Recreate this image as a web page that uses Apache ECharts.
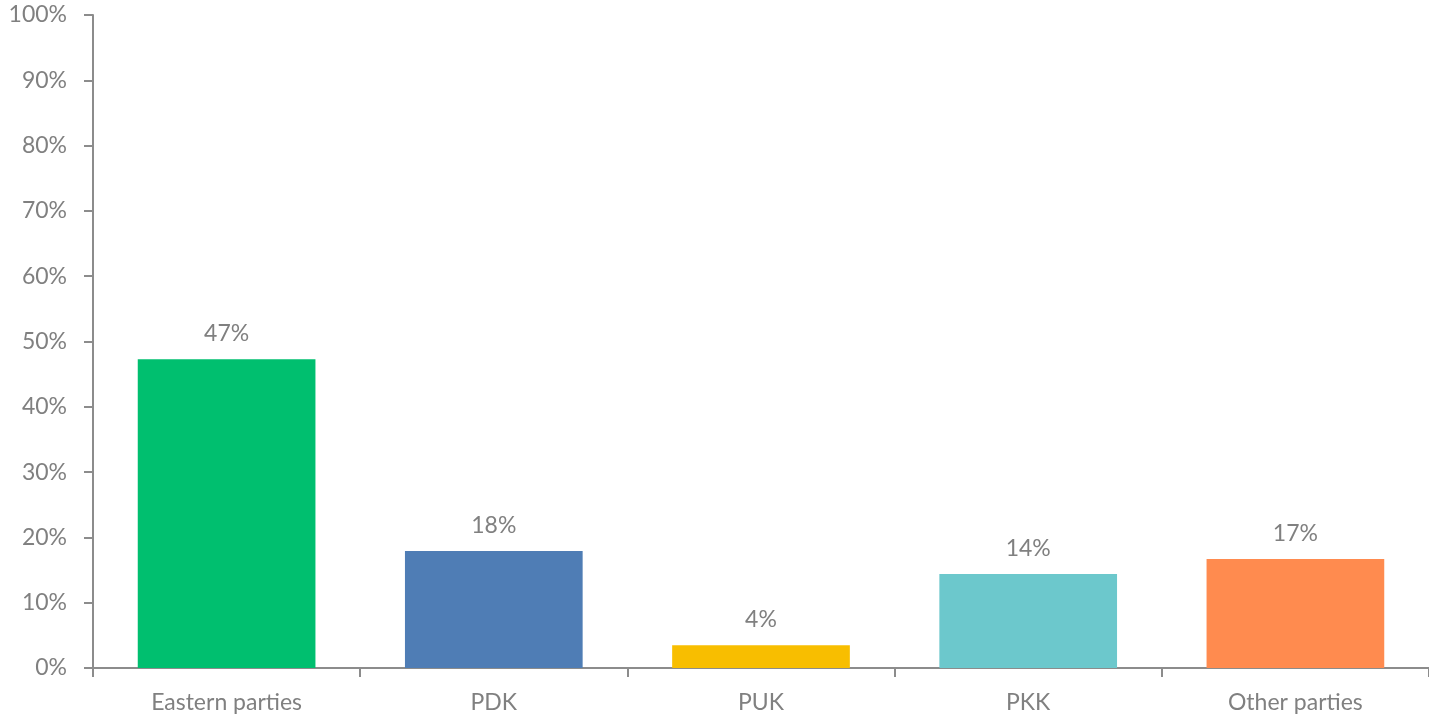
<!DOCTYPE html>
<html>
<head>
<meta charset="utf-8">
<script src="https://cdn.jsdelivr.net/npm/echarts@6/dist/echarts.min.js"></script>
<style>
  html, body { margin: 0; padding: 0; background: #fff; }
  #chart { width: 1429px; height: 719px; }
</style>
</head>
<body>
<div id="chart"></div>
<script>
var categories = ['Eastern parties', 'PDK', 'PUK', 'PKK', 'Other parties'];
var shares = [47.3, 17.9, 3.5, 14.4, 16.7];
var barColors = ['#00bf6f', '#4f7db5', '#f8be00', '#6cc8cc', '#ff8b4f'];

var textGrey = '#808080';
var font = 'Lato, "Open Sans", sans-serif';

var myChart = echarts.init(document.getElementById('chart'));
var option = {
  animation: false,
  grid: { left: 93, right: 0, top: 15, bottom: 51 },
  xAxis: {
    type: 'category',
    data: categories,
    axisLine: { lineStyle: { color: '#8c8c8c', width: 2 } },
    axisTick: { show: true, length: 9, lineStyle: { color: '#8c8c8c', width: 2 } },
    axisLabel: { color: textGrey, fontSize: 23, fontFamily: font, margin: 23 }
  },
  yAxis: {
    type: 'value',
    min: 0,
    max: 100,
    interval: 10,
    splitLine: { show: false },
    axisLine: { show: true, lineStyle: { color: '#8c8c8c', width: 2 } },
    axisTick: { show: true, length: 9, lineStyle: { color: '#8c8c8c', width: 2 } },
    axisLabel: {
      color: textGrey, fontSize: 23, fontFamily: font, margin: 26,
      formatter: '{value}%'
    }
  },
  series: [{
    type: 'bar',
    barCategoryGap: '33.5%',
    data: shares.map(function (v, i) {
      return { value: v, itemStyle: { color: barColors[i] } };
    }),
    label: {
      show: true,
      position: 'top',
      distance: 14,
      color: textGrey,
      fontSize: 23,
      fontFamily: font,
      formatter: function (p) { return Math.round(p.value) + '%'; }
    }
  }]
};
myChart.setOption(option);
</script>
</body>
</html>
